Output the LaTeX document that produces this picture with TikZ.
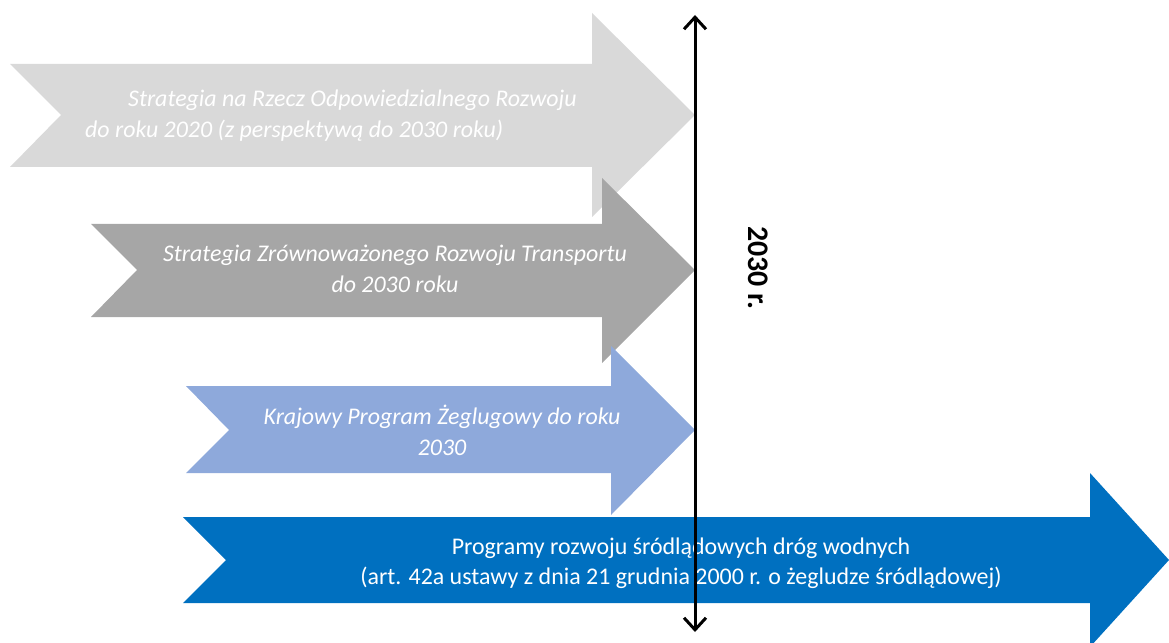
\documentclass[tikz,border=0pt]{standalone}
\usepackage{fontspec}
\setmainfont{Carlito}
\usetikzlibrary{arrows.meta}
\definecolor{lgray}{HTML}{D9D9D9}
\definecolor{dgray}{HTML}{A6A6A6}
\definecolor{lblue}{HTML}{8EA9DB}
\definecolor{mblue}{HTML}{0070C0}
\tikzset{
  bigarrow/.style={fill=#1, draw=none},
  arrowtext/.style={text=white, inner sep=0pt, align=center, font=\fontsize{24}{31}\selectfont\itshape},
  axis/.style={line width=3bp, {Straight Barb[length=12bp,width=22bp,line width=3bp]}-{Straight Barb[length=12bp,width=22bp,line width=3bp]}}
}
\begin{document}
\begin{tikzpicture}[x=1bp,y=-1bp]
\useasboundingbox (0,0) rectangle (1169,643);
% arrow 1
\fill[bigarrow=lgray] (10,64) -- (592,64) -- (592,13) -- (695,115) -- (592,217) -- (592,167) -- (10,167) -- (61,115) -- cycle;
% arrow 2
\fill[bigarrow=dgray] (91,224) -- (602,224) -- (602,178) -- (695,270) -- (602,363) -- (602,317) -- (91,317) -- (137,270) -- cycle;
% arrow 3
\fill[bigarrow=lblue] (186,386) -- (611,386) -- (611,346) -- (695,430) -- (611,515) -- (611,473) -- (186,473) -- (229,430) -- cycle;
% arrow 4
\fill[bigarrow=mblue] (183,517) -- (1090,517) -- (1090,473) -- (1169,560) -- (1090,647) -- (1090,603) -- (183,603) -- (226,560) -- cycle;

\node[arrowtext, align=left] (t1) at (331,116) {\hspace*{43bp}Strategia na Rzecz Odpowiedzialnego Rozwoju\\do roku 2020 (z perspektywą do 2030 roku)};
\node[arrowtext] (t2) at (395,269) {Strategia Zrównoważonego Rozwoju Transportu\\do 2030 roku};
\node[arrowtext] (t3) at (442,430) {Krajowy Program Żeglugowy do roku\\2030};
\node[arrowtext, font=\fontsize{24}{30}\selectfont] (t4) at (681,563) {Programy rozwoju śródlądowych dróg wodnych\\(art. 42a ustawy z dnia 21 grudnia 2000 r. o żegludze śródlądowej)};

\coordinate (axtop) at (695,15);
\coordinate (axbot) at (695,632);
\draw[axis] (axbot) -- (axtop);

\node[rotate=-90, inner sep=0pt, font=\fontsize{30}{32}\selectfont\bfseries] (yr) at (758,268) {2030 r.};
\end{tikzpicture}
\end{document}
